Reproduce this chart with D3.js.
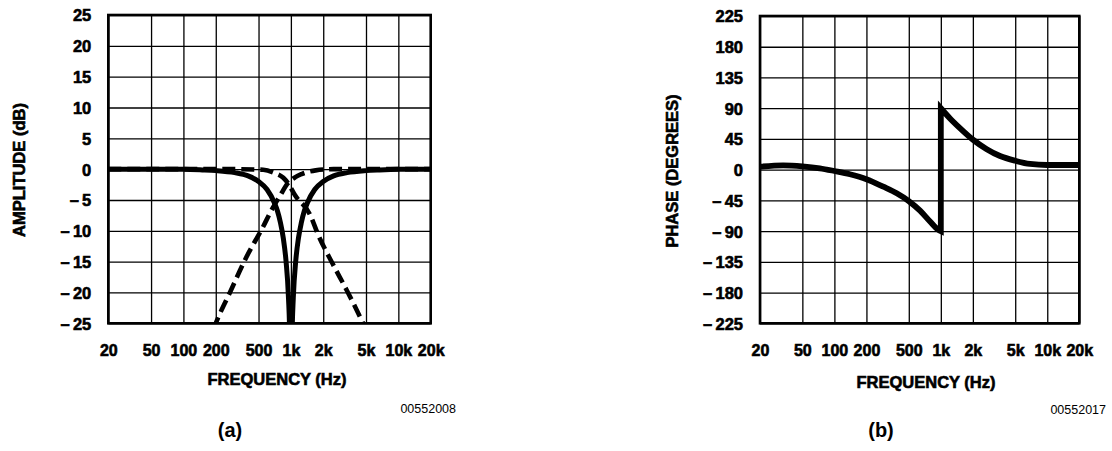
<!DOCTYPE html>
<html>
<head>
<meta charset="utf-8">
<script src="https://cdn.jsdelivr.net/npm/d3@7"></script>
<style>
  body { margin: 0; background: #fff; }
  svg { display: block; }
  .grid line { stroke: #000; stroke-width: 1.3; }
  .grid .domain { display: none; }
</style>
</head>
<body>
<div id="chart"></div>
<script>
// shared frequency axis (Hz)
const freqTicks = [20, 50, 100, 200, 500, 1000, 2000, 5000, 10000, 20000];
const freqLabels = ["20", "50", "100", "200", "500", "1k", "2k", "5k", "10k", "20k"];

// (a) amplitude in dB
const ampTicks = [25, 20, 15, 10, 5, 0, -5, -10, -15, -20, -25];
// notch response (solid)
const notchFreq = [20, 100, 150, 200, 300, 400, 500, 600, 700, 750, 800, 850, 900, 950, 975, 1000,
                   1026, 1053, 1111, 1176, 1250, 1333, 1429, 1667, 2000, 2500, 3333, 5000, 6667, 10000, 20000];
const notchDb   = [0, -0.03, -0.13, -0.24, -0.57, -1.1, -2, -3.3, -5.4, -6.8, -8.7, -11.2, -14.8, -20.9, -27, -60,
                   -27, -20.9, -14.8, -11.2, -8.7, -6.8, -5.4, -3.3, -2, -1.1, -0.57, -0.24, -0.13, -0.03, 0];
// high pass (dashed, rising)
const hpFreq = [190, 200, 271, 387, 553, 662, 800, 925, 1100, 1260, 1700, 2500, 20000];
const hpDb   = [-26, -25, -20, -14.2, -9.3, -6.6, -4.2, -2.4, -1.3, -0.8, -0.2, 0, 0];
// low pass (dashed, falling)
const lpFreq = [20, 300, 553, 700, 850, 950, 1090, 1500, 1800, 2440, 3300, 4700, 5000];
const lpDb   = [0, 0, -0.1, -0.6, -1.4, -2.4, -4.2, -7.3, -10.7, -15.3, -19.6, -25, -26];

// (b) phase in degrees
const phaseTicks = [225, 180, 135, 90, 45, 0, -45, -90, -135, -180, -225];
const phaseLowFreq  = [20, 33, 50, 73, 100, 140, 200, 288, 385, 500, 638, 792, 948, 1000];
const phaseLowDeg   = [4.4, 6.3, 4.9, 2, -2, -6.8, -14, -25, -34.6, -46, -60, -76, -88, -90];
const phaseHighFreq = [1000, 1220, 1520, 2000, 2700, 3600, 5000, 6900, 10000, 20000];
const phaseHighDeg  = [90, 75, 60.5, 44, 30, 20, 13, 8.3, 6.8, 6.8];

const width = 1112, height = 451;
const font = '"Liberation Sans", Arial, Helvetica, sans-serif';

const svg = d3.select("#chart")
  .append("svg")
  .attr("width", width)
  .attr("height", height)
  .style("font-family", font);

function fmtSigned(d) {
  return d < 0 ? "\u2013\u2009" + Math.abs(d) : String(d);
}

// heavier bold text, like the printed figure
function heavy(sel, size) {
  sel.attr("fill", "#000")
    .attr("font-family", font)
    .attr("font-weight", "bold")
    .attr("font-size", size)
    .attr("stroke", "#000")
    .attr("stroke-width", 0.6);
}

function drawPanel(p) {
  const x = d3.scaleLog()
    .domain([20, 20000])
    .range([p.left, p.right]);
  const y = d3.scaleLinear()
    .domain([p.yTicks[p.yTicks.length - 1], p.yTicks[0]])
    .range([p.bottom, p.top]);

  const g = svg.append("g");

  // vertical grid + frequency labels
  const xAxis = d3.axisBottom(x)
    .tickValues(freqTicks)
    .tickFormat((d, i) => freqLabels[i])
    .tickSize(-(p.bottom - p.top))
    .tickPadding(21);
  const xg = g.append("g")
    .attr("class", "grid")
    .attr("transform", `translate(0, ${p.bottom})`)
    .call(xAxis);
  heavy(xg.selectAll("text"), 16);

  // horizontal grid + value labels
  const yAxis = d3.axisLeft(y)
    .tickValues(p.yTicks)
    .tickFormat(fmtSigned)
    .tickSize(-(p.right - p.left))
    .tickPadding(17);
  const yg = g.append("g")
    .attr("class", "grid")
    .attr("transform", `translate(${p.left}, 0)`)
    .call(yAxis);
  heavy(yg.selectAll("text"), 16.5);
  yg.selectAll("text").attr("dy", "0.36em");

  // frame
  g.append("rect")
    .attr("x", p.left)
    .attr("y", p.top)
    .attr("width", p.right - p.left)
    .attr("height", p.bottom - p.top)
    .attr("fill", "none")
    .attr("stroke", "#000")
    .attr("stroke-width", 2.6);

  const clipId = "clip-" + p.name;
  svg.append("clipPath")
    .attr("id", clipId)
    .append("rect")
    .attr("x", p.left)
    .attr("y", p.top)
    .attr("width", p.right - p.left)
    .attr("height", p.bottom - p.top);

  const line = d3.line()
    .x(d => x(d[0]))
    .y(d => y(d[1]))
    .curve(d3.curveMonotoneX);

  const curves = g.append("g").attr("clip-path", `url(#${clipId})`);
  p.series.forEach(s => {
    curves.append("path")
      .attr("d", s.path(line))
      .attr("fill", "none")
      .attr("stroke", "#000")
      .attr("stroke-width", s.width)
      .attr("stroke-dasharray", s.dash || null)
      .attr("stroke-linejoin", "miter")
      .attr("stroke-miterlimit", 10);
  });

  // axis titles
  heavy(g.append("text")
    .attr("x", p.xTitleX)
    .attr("y", p.xTitleY)
    .attr("text-anchor", "middle")
    .text("FREQUENCY (Hz)"), 16.5);

  heavy(g.append("text")
    .attr("transform", `translate(${p.yTitleX}, ${p.yTitleY}) rotate(-90)`)
    .attr("text-anchor", "middle")
    .attr("dominant-baseline", "central")
    .text(p.yTitle), 16.5);

  // figure number and caption
  g.append("text")
    .attr("x", p.codeX)
    .attr("y", p.codeY)
    .attr("text-anchor", "end")
    .attr("font-size", 12.5)
    .text(p.code);

  g.append("text")
    .attr("x", p.capX)
    .attr("y", 437)
    .attr("text-anchor", "middle")
    .attr("font-weight", "bold")
    .attr("font-size", 20)
    .text(p.caption);
}

drawPanel({
  name: "a",
  left: 108.3, right: 430.7, top: 15, bottom: 323.3,
  yTicks: ampTicks,
  yTitle: "AMPLITUDE (dB)", yTitleX: 19, yTitleY: 170,
  xTitleX: 277, xTitleY: 385,
  code: "00552008", codeX: 456, codeY: 413,
  caption: "(a)", capX: 230,
  series: [
    { path: l => l(d3.zip(lpFreq, lpDb)), width: 4.6, dash: "13,6" },
    { path: l => l(d3.zip(hpFreq, hpDb)), width: 4.6, dash: "13,6" },
    { path: l => l(d3.zip(notchFreq, notchDb)), width: 5 }
  ]
});

drawPanel({
  name: "b",
  left: 760, right: 1079.3, top: 16, bottom: 323.3,
  yTicks: phaseTicks,
  yTitle: "PHASE (DEGREES)", yTitleX: 672, yTitleY: 171,
  xTitleX: 926, xTitleY: 388,
  code: "00552017", codeX: 1106, codeY: 414,
  caption: "(b)", capX: 881,
  series: [
    {
      // low branch, jump at 1 kHz, then the high branch
      path: l => l(d3.zip(phaseLowFreq, phaseLowDeg)) +
                 l(d3.zip(phaseHighFreq, phaseHighDeg)).replace(/^M/, "L"),
      width: 5.8
    }
  ]
});
</script>
</body>
</html>
